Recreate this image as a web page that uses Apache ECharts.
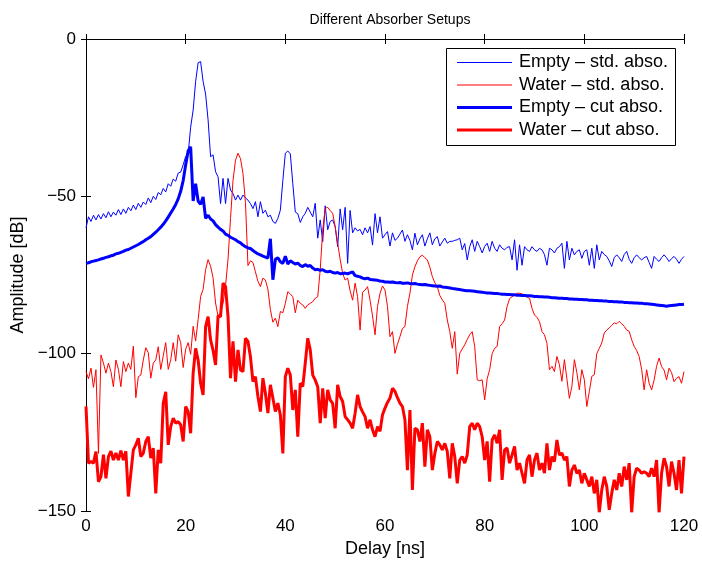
<!DOCTYPE html>
<html>
<head>
<meta charset="utf-8">
<script src="https://cdn.jsdelivr.net/npm/echarts@6/dist/echarts.min.js"></script>
<style>
html,body{margin:0;padding:0;background:#fff;}
#chart{width:702px;height:564px;}
</style>
</head>
<body>
<div id="chart"></div>
<script>
// Sample spacing of the delay axis (ns)
const delayStep = 0.5;

const seriesNames = ['Empty – std. abso.', 'Water – std. abso.', 'Empty – cut abso.', 'Water – cut abso.'];
const xTicks = [0, 20, 40, 60, 80, 100, 120];
const yTicks = [-150, -100, -50, 0];

// Empty – std. abso. (dB), one value every 0.5 ns from 0 to 120 ns
const emptyStd = [
-60,-56.5,-58,-56,-57.5,-55.8,-57.2,-55.5,-56.8,-54.9,-56.5,-55,-56,-54.2,-55.8,-54,-55.4,-53.5,-54.6,-52.8,
-54.2,-52.2,-53.5,-51.8,-52.6,-50.5,-52,-50,-51,-48.8,-49.5,-47.5,-48.6,-46,-46.8,-44.5,-45.2,-42.6,-42.3,-40,
-37.3,-36.5,-28,-22.6,-13.5,-7.5,-7.2,-13.5,-17.5,-25.7,-37.4,-36.8,-42.2,-43.8,-52.3,-44.3,-52.3,-44.3,-48,-49.1,
-51.2,-49.6,-51.2,-49.6,-50.5,-51.2,-52.3,-53.9,-51.7,-56.5,-51.7,-55.4,-54.4,-56.5,-56,-58,-58.6,-57,-54.4,-45,
-36.3,-35.6,-36.5,-46,-55,-55.5,-58.3,-56.5,-55.4,-53.5,-55,-56.5,-52.2,-63.3,-57.5,-64.4,-53,-60.6,-58,-57.5,
-59.6,-66,-54,-60.6,-53.5,-71.3,-54.5,-61.6,-60,-61,-60.5,-62.2,-60,-61.6,-59.6,-65.5,-55.5,-61.6,-56.5,-63.3,
-62.2,-61.2,-65.8,-61.6,-64,-63.3,-62,-60.7,-64.3,-62.2,-64,-67,-61.7,-65.4,-63.5,-62.2,-65.8,-63.5,-61.6,-65.4,
-63.5,-62.8,-65.8,-64.5,-63.3,-64.9,-64.3,-64.3,-64,-63.8,-63.3,-67,-65,-70.2,-66,-63.8,-67.5,-64.3,-66,-68,
-65.9,-64.9,-67.5,-64.3,-66.5,-67.5,-65.4,-66.5,-67,-66.2,-66,-70.2,-63.8,-73.5,-65.4,-71.9,-66,-67,-67.5,-66,
-67,-67.5,-66.5,-67,-68.5,-71.9,-66.5,-67,-68,-66.5,-66,-64.9,-72.9,-64.3,-70.2,-66.5,-68.6,-67.5,-67,-69.7,
-67.5,-67,-71.9,-66.5,-72.9,-65.4,-70.2,-67.5,-68.5,-69.1,-70.5,-72.3,-69.5,-68.6,-69.5,-70.7,-68.5,-67.5,-70,-71.3,
-69.5,-68.6,-69.5,-70.2,-69.5,-69.1,-71,-72.9,-69.1,-70,-70.7,-69.5,-68.6,-69.5,-70.7,-69.8,-69.1,-70,-71.3,-70,
-69.1
];

// Water – std. abso. (dB)
const waterStd = [
-105.7,-108,-104.6,-110.7,-105.1,-131.7,-100.4,-103,-106.2,-103,-105.7,-110.5,-102,-105,-110.5,-102.5,-105.7,-103,-105,-97.6,
-114,-107.3,-106.8,-102,-98.1,-99.7,-107.8,-103,-102,-97.8,-105,-100.7,-96.5,-105,-102,-96.5,-102.4,-94,-96.5,-104.4,
-98.6,-96.5,-100.2,-91.3,-96,-89.2,-81.8,-79.6,-73.3,-70.1,-72.2,-75.9,-83.9,-88.1,-87,-84,-78.5,-70,-57,-45,
-38.5,-36.3,-38,-42.7,-52,-72,-70.5,-71,-74,-77,-78.7,-76,-76.6,-79.5,-86,-90,-88.7,-91.4,-86.6,-87,
-84,-80.3,-81,-81.9,-87,-83,-84,-84.5,-85.6,-84.5,-84,-83.5,-82.4,-81.9,-73.4,-60.7,-53.8,-53.5,-54.5,-55.4,
-59.6,-65,-70,-74.5,-76.6,-76,-80,-83,-77.6,-81.9,-92.5,-80.5,-79.8,-78.7,-83,-88,-94,-85,-80.8,-78.5,
-79.8,-85,-94.6,-93,-99.9,-97,-94.6,-92,-91.4,-85,-80.8,-75,-72.4,-70.5,-69.2,-68.7,-69.5,-70.2,-72.5,-75.5,
-77.5,-78.7,-81.5,-82.9,-84,-89.3,-93,-98.3,-93,-106.5,-99.9,-98.5,-97.2,-95.5,-94,-93,-97.7,-108.3,-108.6,-108.3,
-114.7,-108,-105.1,-100,-98.3,-97.7,-91.4,-90.5,-89.3,-85,-82.5,-81.9,-81.4,-80.8,-80.8,-81,-81.4,-82,-82.4,-85.6,
-87.7,-88.5,-89.8,-93,-94,-96.7,-105.1,-104,-105.7,-100.9,-103.5,-108.8,-101.9,-108,-114.2,-110.4,-101.9,-106,-111.5,-105.1,
-108.3,-116.8,-112,-107.2,-106.7,-100,-98.3,-96.6,-93.4,-92.5,-91.8,-91,-90.2,-90.5,-89.7,-90.5,-91.3,-92.5,-92.9,-95.6,
-97.7,-99,-100.9,-105,-111.5,-105.1,-109.4,-111.5,-108.4,-104,-101.4,-104.1,-105.2,-108.3,-104.6,-106,-108.9,-107.8,-107.3,-109.4,
-105.7
];

// Empty – cut abso. (dB)
const emptyCut = [
-71.3,-71.1,-70.8,-70.6,-70.4,-70.2,-69.9,-69.7,-69.4,-69.2,-68.9,-68.7,-68.3,-68.1,-67.8,-67.5,-67.1,-66.9,-66.5,-66.1,
-65.7,-65.3,-64.8,-64.4,-63.8,-63.3,-62.8,-62.1,-61.4,-60.6,-59.8,-58.9,-57.8,-56.6,-55.3,-54,-52.6,-50.8,-48.4,-45,
-40,-35.5,-34.3,-51.5,-46,-51.5,-52.5,-50.2,-57,-56,-57.2,-57.8,-59,-59.8,-60.5,-61,-62,-62.4,-63,-63.4,
-63.8,-64.4,-64.8,-65.5,-66,-66.4,-66.6,-67.2,-67.8,-68.3,-68.6,-69,-69.3,-69.6,-63.5,-76.5,-70,-69.5,-70.8,-71.3,
-69,-71.5,-70.5,-71,-71.5,-71.2,-72,-72.3,-71.7,-72.2,-72,-72.8,-73.3,-73.2,-73.5,-73.3,-73.8,-74,-73.8,-74.2,
-74.4,-74.2,-74.6,-74.5,-74.4,-74.6,-74.3,-74,-75.2,-75.4,-75.6,-76,-76.2,-76,-76.4,-76.5,-76.6,-76.7,-76.9,-77,
-77.2,-77.2,-77.3,-77.2,-77.4,-77.5,-77.4,-77.6,-77.6,-77.5,-77.7,-77.8,-77.7,-77.9,-78,-78.1,-78,-78.2,-78.3,-78.4,
-78.5,-78.6,-78.5,-78.8,-78.9,-79,-79.1,-79.3,-79.4,-79.5,-79.6,-79.8,-79.9,-80,-80,-80.1,-80.2,-80.3,-80.4,-80.5,
-80.6,-80.7,-80.7,-80.8,-80.9,-80.9,-81,-81.1,-81.1,-81.2,-81.2,-81.3,-81.3,-81.4,-81.4,-81.5,-81.5,-81.6,-81.6,-81.7,
-81.8,-81.8,-81.9,-81.9,-82,-82,-82.1,-82.2,-82.2,-82.3,-82.4,-82.4,-82.5,-82.5,-82.6,-82.6,-82.7,-82.7,-82.8,-82.8,
-82.9,-82.9,-83,-83,-83.1,-83.1,-83.2,-83.2,-83.3,-83.3,-83.4,-83.4,-83.5,-83.5,-83.6,-83.6,-83.7,-83.7,-83.8,-83.8,
-83.9,-83.9,-84,-84,-84.1,-84.1,-84.2,-84.3,-84.4,-84.5,-84.6,-84.7,-84.8,-84.9,-84.8,-84.7,-84.6,-84.5,-84.4,-84.4,
-84.3
];

// Water – cut abso. (dB)
const waterCut = [
-116.8,-134.8,-134.3,-134.8,-131.1,-140.7,-139.1,-132.1,-139.6,-132.7,-131,-133.8,-131.6,-133.8,-130.8,-133.8,-131,-145.4,-138,-130.6,
-129,-126.9,-132.7,-131.6,-127.9,-126.4,-133.2,-130,-144.4,-130.6,-134.8,-115.8,-112.1,-129,-123.2,-120.5,-122.1,-121.6,-122.6,-127.9,
-116.8,-118.4,-125.3,-106.2,-98.3,-102,-109.4,-113.1,-91.4,-88.2,-95.6,-99,-103.6,-88,-88.2,-77.6,-78.7,-88.2,-107.8,-96.1,
-108.9,-98.8,-105.2,-105.7,-95.1,-96.1,-101,-108.9,-107.3,-113.6,-118.4,-107.8,-112.6,-118.9,-109.9,-114.1,-118.4,-115.7,-119.4,-131.7,
-107.3,-104.6,-106.8,-117.9,-111.5,-126.4,-109.4,-110.5,-103,-95.1,-98.8,-106.8,-108.4,-110.5,-122.1,-111,-120.5,-111.5,-114.7,-115.8,
-123.7,-109.9,-113.6,-115.2,-120,-121,-122.1,-123.7,-118.9,-113.1,-116.8,-118.5,-120,-123.7,-121,-124.2,-126.4,-123.2,-124.7,-119.4,
-117.3,-115.5,-114.1,-111,-112,-114,-115.7,-116.8,-121,-137,-117.9,-143.3,-123.7,-124.2,-127.9,-122.1,-135.9,-124.2,-126.4,-137,
-131.7,-127.9,-129,-130.6,-128.5,-131.1,-139.6,-128.5,-132.7,-141.2,-133.8,-132.7,-134.8,-132.2,-123.2,-122.1,-124.2,-122.1,-123.2,-126.4,
-133.8,-127.9,-140.7,-127.4,-125.8,-128.5,-124.2,-140.1,-130.6,-130,-134.8,-132.2,-129.5,-137,-134.8,-138,-141.2,-133.8,-132.2,-139.1,
-133.8,-131.6,-137,-134.8,-138,-128.5,-137,-132.7,-134.3,-127.4,-132.2,-131.6,-133.8,-132.7,-142.2,-137,-135.4,-138,-137,-141.2,
-138,-140.1,-142.2,-139.1,-144.4,-140.1,-150.5,-143.3,-139.1,-142.2,-149.6,-144.4,-140.1,-143.3,-138,-142.2,-135.9,-140.1,-134.8,-150.5,
-139.1,-136.4,-137,-138,-137.5,-138,-139.1,-136.4,-139.1,-133.8,-150.5,-138,-133.2,-135.9,-142.2,-134.3,-138,-143.3,-133.8,-144.4,
-132.7
];

const FONT = "'Liberation Sans', Arial, Helvetica, sans-serif";
const toPairs = ys => ys.map((v, i) => [i * delayStep, v]);
const fmtTick = v => (v < 0 ? '\u2212' + Math.abs(v) : String(v));

const chart = echarts.init(document.getElementById('chart'), null, {renderer: 'canvas'});

const axisCommon = {
  type: 'value',
  axisLine: {show: true, lineStyle: {color: '#000', width: 1}},
  axisTick: {show: true, inside: true, length: 5, lineStyle: {color: '#000', width: 1}},
  splitLine: {show: false}
};

const xMin = xTicks[0], xMax = xTicks[xTicks.length - 1], xInt = xTicks[1] - xTicks[0];
const yMin = yTicks[0], yMax = yTicks[yTicks.length - 1], yInt = yTicks[1] - yTicks[0];

const colors = ['#0000ff', '#ff0000', '#0000ff', '#ff0000'];
const widths = [1, 1, 3, 3];
const datasets = [emptyStd, waterStd, emptyCut, waterCut];

// Legend drawn as graphic elements (box, line samples, real text labels)
const legendBox = {x: 446, y: 48, w: 229, h: 97};
const legendRowY = [62.5, 85, 107.5, 130];
const legendGraphics = [{
  type: 'rect', z: 100,
  shape: {x: legendBox.x + 0.5, y: legendBox.y + 0.5, width: legendBox.w, height: legendBox.h},
  style: {fill: '#fff', stroke: '#000', lineWidth: 1}
}];
seriesNames.forEach((name, k) => {
  legendGraphics.push({
    type: 'line', z: 101,
    shape: {x1: 457, y1: legendRowY[k], x2: 512, y2: legendRowY[k]},
    style: {stroke: colors[k], lineWidth: widths[k]}
  });
  legendGraphics.push({
    type: 'text', z: 101, x: 519, y: legendRowY[k],
    style: {text: name, fill: '#000', font: '18px ' + FONT, textAlign: 'left', textVerticalAlign: 'middle'}
  });
});

chart.setOption({
  animation: false,
  backgroundColor: '#fff',
  title: {
    text: 'Different Absorber Setups',
    left: 385, top: 8, textAlign: 'center',
    textStyle: {fontFamily: FONT, fontSize: 14, fontWeight: 'normal', color: '#000'}
  },
  grid: {left: 86, right: 18, top: 39, bottom: 53, containLabel: false},
  xAxis: [
    Object.assign({}, axisCommon, {
      position: 'bottom', min: xMin, max: xMax, interval: xInt,
      axisLabel: {color: '#000', fontFamily: FONT, fontSize: 17, margin: 7, formatter: fmtTick},
      name: 'Delay [ns]', nameLocation: 'middle', nameGap: 29,
      nameTextStyle: {color: '#000', fontFamily: FONT, fontSize: 18}
    }),
    Object.assign({}, axisCommon, {
      position: 'top', min: xMin, max: xMax, interval: xInt,
      axisLabel: {show: false}
    })
  ],
  yAxis: [
    Object.assign({}, axisCommon, {
      position: 'left', min: yMin, max: yMax, interval: yInt,
      axisLabel: {color: '#000', fontFamily: FONT, fontSize: 17, margin: 10, formatter: fmtTick},
      name: 'Amplitude [dB]', nameLocation: 'middle', nameGap: 52, nameRotate: 90,
      nameTextStyle: {color: '#000', fontFamily: FONT, fontSize: 18}
    }),
    Object.assign({}, axisCommon, {
      position: 'right', min: yMin, max: yMax, interval: yInt,
      axisLabel: {show: false}
    })
  ],
  graphic: legendGraphics,
  series: seriesNames.map((name, k) => ({
    name: name,
    type: 'line',
    xAxisIndex: 0, yAxisIndex: 0,
    data: toPairs(datasets[k]),
    symbol: 'none', showSymbol: false,
    sampling: null,
    clip: true,
    lineStyle: {color: colors[k], width: widths[k]},
    itemStyle: {color: colors[k]},
    emphasis: {disabled: true}
  }))
});
</script>
</body>
</html>
